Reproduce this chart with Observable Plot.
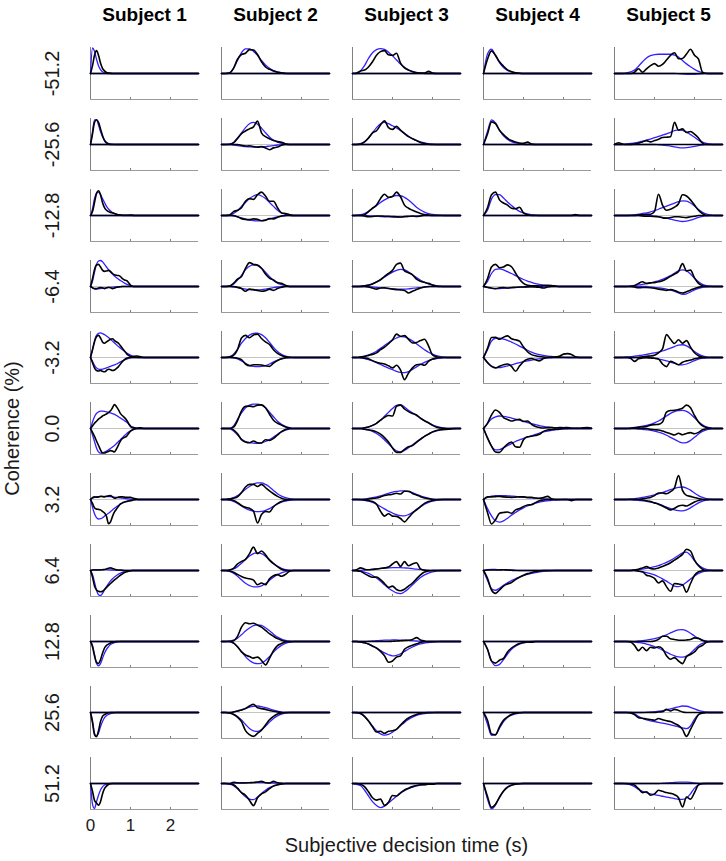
<!DOCTYPE html>
<html>
<head>
<meta charset="utf-8">
<script src="https://cdn.jsdelivr.net/npm/d3@7"></script>
<script src="https://cdn.jsdelivr.net/npm/@observablehq/plot@0.6"></script>
<style>
  html, body { margin: 0; padding: 0; background: #ffffff; }
  #chart { width: 726px; height: 861px; }
</style>
</head>
<body>
<div id="chart"></div>
<script>
// ---------- categories and labels ----------
const subjects = ["Subject 1", "Subject 2", "Subject 3", "Subject 4", "Subject 5"];
const coherences = ["-51.2", "-25.6", "-12.8", "-6.4", "-3.2", "0.0", "3.2", "6.4", "12.8", "25.6", "51.2"];
const timeTicks = [0, 1, 2];
const xTitle = "Subjective decision time (s)";
const yTitle = "Coherence (%)";
const tMax = 2.7;
// sampling step (s) of the stored density values, per subject
const steps = [0.05, 0.1, 0.1, 0.1, 0.1];

// ---------- densities (relative to panel maximum = 10), one entry per coherence ----------
// Up = choices drawn above zero, Lo = choices drawn below zero (stored as magnitudes)
// Black = data, Blue = model
const s1BlackUp = [
  [0,3,7,8.8,7,4,2,1,0.4,0.2,0.1],
  [0,4,8.5,9.5,8.5,6,3.5,1.5,0.6,0.2,0],
  [0,1.5,5,8.5,9.5,8,5,3,2,1.5,1.2,1,0.8,0.5,0.3,0.2,0.1,0.1,0.1,0.1,0.2,0.1,0],
  [0,3,6.5,8.3,8.5,7.5,6.3,5.8,6,6.2,5.8,5,4.5,4.3,4.2,3.8,3,2.5,2.3,1.5,0.5,0.1,0],
  [0,3,6,8,8.5,7.5,6,5.5,6,6.5,7,7.2,6.5,6,5.5,4.5,3.5,2.5,1.5,0.8,0.4,0.3,0.5,0.6,0.5,0.3,0.1,0],
  [0,1,2,2.8,3.6,4.2,4.8,5.2,5.6,6.1,6.8,8,9.2,8.4,7.2,5.7,4.9,4.2,3.3,2,0.8,0.3,0.2,0.1,0.2,0.3,0.1,0],
  [0,0.7,1,0.9,1,1.2,1.1,1,1.2,1.4,1.5,1,0.5,0.7,0.9,1,1,0.9,0.8,0.8,0.8,0.6,0.4,0.2,0],
  [0,0.2,0.2,0.2,0.2,0.2,0.3,0.4,0.6,0.9,1,0.8,0.5,0.3,0.2,0.2,0.1,0],
  [], [], []
];
const s1BlueUp = [
  [0,9.8,8.5,5.5,3,1.5,0.7,0.3,0.1,0],
  [0,5,9.5,9.5,7.5,5,3,1.7,0.9,0.4,0.2,0.1,0],
  [0,2.5,6.5,8.5,9,8,6.5,5,3.5,2.5,1.7,1.1,0.7,0.4,0.2,0.1,0],
  [0,2,5.5,8.5,9.8,10,9.5,8.5,7.5,6.5,5.5,4.8,4,3.4,2.8,2.3,1.8,1.3,0.9,0.6,0.3,0.1,0],
  [0,3,6.5,8.5,9.3,9.5,9.2,8.8,8.3,7.7,7,6.3,5.6,4.9,4.2,3.6,3,2.4,1.8,1.3,0.9,0.6,0.3,0.15,0],
  [0,2.5,4.5,5.8,6.4,6.7,6.7,6.6,6.4,6.2,6,5.7,5.4,5,4.5,4,3.5,3,2.5,1.8,1.1,0.6,0.3,0.1,0],
  [0,0.5,0.8,1,1.1,1.2,1.2,1.2,1.2,1.1,1.1,1,0.9,0.8,0.7,0.6,0.5,0.4,0.3,0.2,0.1,0],
  [0,0.2,0.3,0.3,0.35,0.35,0.35,0.3,0.3,0.25,0.2,0.2,0.15,0.1,0.1,0.05,0],
  [], [], []
];
const s1BlackLo = [
  [], [], [],
  [0,0.5,0.8,0.8,0.6,0.4,0.5,0.8,0.5,0.3,0.5,0.8,0.6,0.3,0.2,0.1,0],
  [0,2,4,5,5.2,5,5.3,5.5,5,4.5,4.7,5,4.8,4.2,3.5,2.5,1.5,0.8,0.3,0.1,0],
  [0,1.5,3,4.8,6.5,8.2,9.4,9.4,9.1,8.8,8.5,8.7,9,7.8,6.3,4.7,3.8,3.4,3,2,1,0.5,0.2,0],
  [0,1.5,3.2,3.7,3.8,4,4.6,5.2,6.5,9.3,8.6,6.5,4.8,3.7,2.6,1.7,1.2,1,0.8,0.6,0.5,0.3,0.1,0],
  [0,2.5,6,7.5,8,8.2,8,7.3,6.5,5.7,5,4.3,3.6,3,2.4,1.8,1.3,0.8,0.5,0.3,0.1,0],
  [0,2,5.5,8,8.5,7,4.5,2.5,1.5,1,0.6,0.3,0.1,0],
  [0,4,8.5,9.3,7,3.5,1.5,0.8,0.4,0.1,0],
  [0,3,6.5,7.5,8.3,7,4,2,1,0.4,0.1,0]
];
const s1BlueLo = [
  [], [], [],
  [0,0.5,0.9,1,0.9,0.8,0.7,0.6,0.5,0.4,0.3,0.25,0.2,0.15,0.1,0.05,0],
  [0,1.5,3,4,4.5,4.6,4.5,4.3,4,3.7,3.4,3.1,2.8,2.5,2.1,1.7,1.3,0.9,0.6,0.3,0.1,0],
  [0,2.5,5,7.5,9,9.5,9.4,9.1,8.7,8.2,7.7,7.1,6.5,5.8,5,4.3,3.5,2.7,2,1.4,0.9,0.5,0.3,0.1,0],
  [0,3,5.5,7,7.5,7.4,7,6.4,5.8,5.3,4.7,4,3.4,2.8,2.3,1.8,1.4,1,0.7,0.5,0.3,0.15,0],
  [0,1.5,4.5,7.5,9.3,9.6,8.8,7.5,6.2,5,4,3.2,2.5,1.9,1.4,1,0.7,0.5,0.3,0.2,0.1,0],
  [0,1.5,5,8.5,9.4,8.5,6.5,4.5,3,2,1.2,0.7,0.4,0.2,0.1,0],
  [0,3,8,9.2,8,5.5,3.5,2,1.2,0.7,0.4,0.2,0.1,0],
  [0,8,9.6,7,4.5,2.5,1.3,0.6,0.3,0.1,0]
];

const s2BlackUp = [
  [0,0,0.2,2,5.5,7.3,7.8,9.2,9,7.3,4.5,2.5,1.6,1,0.5,0.2,0],
  [0,0,0,0.6,2.3,4.2,5.2,6,6.8,9,4.5,3,2.2,1.5,1.1,0.9,0.2,0],
  [0,0,0.2,1.5,2,3,5.5,6.5,6.2,8,9,7.5,5.5,5.5,3,1,0.8,0.3,0],
  [0,0,0.2,1.2,2.8,3.8,7,9.2,8.5,8.3,7,4.8,3.2,2.5,1.5,1.2,0.5,0],
  [0,0,0.2,0.8,3,7.5,8.5,7.6,8.7,9,7.3,6,5,3,1.6,0.8,0.3,0],
  [0,0,0,0.5,3,6.8,8.5,8.6,8.4,9,9.1,8,5.5,3.2,2,1.3,0.6,0.2,0],
  [0,0,0.2,0.5,1,2.7,4.8,5.8,5.8,5,5.8,4.6,3.3,2.2,1.2,0.5,0.1,0],
  [0,0,0.2,0.8,2.5,3.5,4.3,6.5,9,6.5,7.5,6,4,2.6,1.5,0.5,0.1,0],
  [0,0,0,0.3,2,5.5,7.2,6.8,7,6.3,5.5,4.3,3,2,1.1,0.5,0.1,0],
  [0,0,0,0.2,0.6,1,1.5,2.5,3.2,1.8,1.5,1.2,0.8,0.5,0.2,0],
  [0,0,0,0.5,0.3,0.2,0.2,0.3,0.4,0.6,0.8,0.3,0.2,0.8,0.3,0.1,0]
];
const s2BlueUp = [
  [0,0,0.3,2,5,8,9.5,9.5,8.5,7,5,3.3,2,1.1,0.6,0.3,0.1,0],
  [0,0,0.2,0.8,2.5,4.5,6.5,8,8.5,7.8,6.3,4.5,2.9,1.7,0.9,0.4,0.2,0],
  [0,0,0,0.8,1.8,3.5,5,6.5,7.5,8,7.5,6.5,5,3.5,2,1,0.4,0.1,0],
  [0,0,0.2,0.9,2.5,4.3,6.5,7.8,8.3,8,7,5.5,3.8,2.3,1.3,0.7,0.3,0],
  [0,0,0.3,1.3,3.2,5.5,7.3,8.6,9.3,9.4,8.8,7.6,5.8,3.9,2.3,1.2,0.5,0.2,0],
  [0,0,0,1,3.5,6,8,9,9.4,9.4,9,8,6.3,4.5,2.8,1.6,0.8,0.3,0],
  [0,0,0.3,0.7,1.5,2.6,3.9,5,5.9,6.4,6.4,5.8,4.8,3.5,2.2,1.3,0.7,0.3,0.1,0],
  [0,0,0.2,0.6,1.5,2.8,4.2,5.6,6.5,6.8,6.5,5.5,4.1,2.7,1.6,0.8,0.3,0.1,0],
  [0,0,0.2,0.5,1.3,2.6,4,5.2,6.1,6.4,6.2,5.3,4.1,2.8,1.7,0.9,0.4,0.1,0],
  [0,0,0,0.2,0.5,1,1.6,2.1,2.4,2.5,2.3,1.9,1.4,0.9,0.5,0.2,0],
  [0,0,0,0.1,0.2,0.3,0.3,0.35,0.35,0.35,0.3,0.3,0.25,0.2,0.15,0.1,0]
];
const s2BlackLo = [
  [],
  [0,0,0,0,0,0.3,0.6,0.5,0.8,1,0.8,1.3,2,1.3,1,0.3,0],
  [0,0,0,0,0.5,1.2,1.5,1.6,1.3,1.5,2,1.8,1.2,1.3,0.7,0.2,0],
  [0,0,0,0,0.3,0.8,1.8,1,1.2,1.5,1.8,1.6,1,1.5,0.8,0.3,0],
  [0,0,0,0,0.3,0.8,2.5,3.2,2.8,2.8,2.9,3.2,3.4,2.2,1.2,0.5,0.1,0],
  [0,0,0,0.5,2,4.3,5.2,5.5,4.8,5.5,5.6,4.3,4.6,3.8,2.5,1.2,0.4,0],
  [0,0,0.1,0.4,1.2,2.3,3,3.4,4.5,9,5.8,4.6,4.8,2.8,1.6,0.8,0.3,0],
  [0,0,0.2,0.7,1.5,2.3,2.9,3.2,3.7,5.5,4.8,5.5,3.2,2,1.6,2.2,1.5,0.3,0],
  [0,0,0,0.5,2,4,5.2,5.8,6.4,6,7.3,9,6.5,3.5,1.6,0.8,0.2,0],
  [0,0,0.2,0.8,1.8,3.5,7,8.5,9.2,8,6.8,4.8,2.8,1.5,0.6,0.2,0],
  [0,0,0.1,0.5,1.8,3.5,4.5,6.5,8.5,5.5,4,3.2,2,1,0.5,0.2,0]
];
const s2BlueLo = [
  [],
  [0,0,0,0.2,0.4,0.6,0.8,0.9,1,1,0.9,0.8,0.6,0.4,0.2,0.1,0],
  [0,0,0,0.2,0.5,0.9,1.4,1.8,2,2.1,2,1.7,1.3,0.9,0.5,0.2,0.1,0],
  [0,0,0,0.2,0.4,0.7,1,1.2,1.3,1.3,1.2,1,0.7,0.4,0.2,0.1,0],
  [0,0,0,0.2,0.5,1.3,2.2,3,3.4,3.5,3.4,3.1,2.5,1.7,1,0.5,0.2,0],
  [0,0,0,1,2.5,4,5,5.4,5.6,5.7,5.5,5,4.3,3.3,2.2,1.3,0.6,0.2,0],
  [0,0,0.2,0.7,1.5,2.5,3.4,4.1,4.5,4.7,4.6,4.2,3.5,2.6,1.7,1,0.6,0.3,0.1,0],
  [0,0,0.3,1,2.2,3.6,4.9,5.8,6.3,6.3,5.9,5,3.8,2.6,1.6,0.9,0.4,0.1,0],
  [0,0,0,0.7,2,3.8,5.8,7.3,8.2,8.5,8.3,7.3,5.8,4.1,2.6,1.5,0.7,0.3,0],
  [0,0,0.2,0.6,1.5,2.9,4.6,6.2,7.1,7.3,6.6,5.3,3.7,2.3,1.3,0.6,0.2,0],
  [0,0,0.3,0.8,2,3.6,5.1,6,6.2,5.2,3.8,2.6,1.6,0.9,0.5,0.2,0]
];

const s3BlackUp = [
  [0,0,1,1.3,2.5,4.5,7,8.4,8.8,7.2,7,7.8,4,2.2,1.3,0.7,0.3,0.2,0.2,0.8,0.2,0],
  [0,0,0.2,1,2.5,4.5,5.3,7.5,9.1,6.5,5.8,7,5.5,4.2,3,2.2,1.5,0.8,0.4,0.1,0],
  [0,0,0,0.3,1.5,2.8,4,6.5,8.2,7,7.3,9,7.2,4,2.8,2,1.3,0.8,0.4,0.2,0],
  [0,0,0,0.2,0.5,1,1.7,2.6,3.9,5,6.2,8.5,9,6,5.3,4.5,2.8,2,1.6,1.2,0.6,0.1,0],
  [0,0,0.2,0.4,0.8,1.2,1.8,3,4,5.3,6.8,9,8.2,8.4,7,5.6,5.8,6.5,7,4.5,1,0.3,0],
  [0,0,0,0.3,0.6,1.2,2,3.2,4.3,5,4.8,8.5,9,7.5,6.5,5.8,5.2,4,3,2.2,1.2,0.5,0.2,0],
  [0,0,0,0,0.2,0.4,0.6,1,1.5,1.8,2,2.4,2.1,3.2,3.2,2.3,1.7,1.1,0.6,0.3,0],
  [0,0.3,1,0.5,0.3,0.4,0.6,0.8,1,1.3,2.5,3.4,1.6,3.4,1.8,2.5,3,0.6,0.1,0],
  [0,0,0,0,0,0,0,0,0,0,0.1,0.2,0.3,0.4,0.5,0.8,1.5,0.6,0.2,0],
  [], []
];
const s3BlueUp = [
  [0,0.3,1,3,5.8,8,9.2,9.6,9.3,8.2,6.8,5.2,3.6,2.4,1.4,0.8,0.4,0.2,0],
  [0,0,0.3,1,2.5,4.5,6.5,8,8.5,8,7.2,6.4,5.4,4.3,3.2,2.3,1.5,1,0.6,0.3,0.15,0],
  [0,0.1,0.3,0.7,1.6,2.7,3.8,5,6,6.8,7.4,7.7,7.6,7,6,4.6,3.2,2.1,1.3,0.7,0.4,0.2,0.1,0],
  [0,0,0.1,0.3,0.6,1.1,1.8,2.6,3.6,4.6,5.5,6.2,6.6,6.4,5.6,4.5,3.4,2.4,1.6,1,0.6,0.3,0.1,0],
  [0,0,0.2,0.5,1,1.6,2.4,3.5,4.6,5.7,6.7,7.5,8,7.9,7.3,6.4,5.3,4.1,3,2,1.3,0.7,0.3,0.1,0],
  [0,0,0,0.2,0.6,1.2,2,3.2,4.7,6.2,7.7,8.9,9.2,8.3,7,6,5,3.9,3,2.1,1.4,0.8,0.4,0.2,0],
  [0,0,0,0.2,0.4,0.7,1,1.4,1.9,2.4,2.8,3.1,3.3,3.3,3,2.6,2,1.4,0.9,0.5,0.2,0],
  [0,0,0,0.2,0.3,0.5,0.6,0.8,0.9,1,1.1,1.1,1.1,1,0.9,0.7,0.5,0.4,0.2,0.1,0],
  [0,0,0,0,0.1,0.2,0.3,0.4,0.5,0.5,0.6,0.6,0.5,0.5,0.4,0.3,0.2,0.1,0],
  [], []
];
const s3BlackLo = [
  [], [],
  [0,0,0,0.2,0.5,0.4,0.2,0.2,0.3,0.3,0.4,0.5,0.6,0.4,0.3,0.2,0.4,0.2,0],
  [0,0,0,0,0.2,0.6,1,0.6,0.5,0.7,1,1.2,1.3,1.5,2.5,1.8,1.2,0.6,0.2,0],
  [0,0,0,0.2,0.5,1.2,1.8,2.2,2.5,3.2,4,3,4.8,8.5,6,4,2.8,2.6,3,1.5,0.6,0.2,0],
  [0,0,0,0.3,0.5,0.8,1.3,2.2,3.5,5.2,7.5,9.2,9.2,8,7,6.6,5.3,4.2,3,2.2,1.3,0.8,0.5,0.4,0.3,0.1,0],
  [0,0,0,0.2,0.4,0.8,1.8,4.5,6.4,5.5,6.4,6.5,7.3,8.6,7,5.3,4,2.7,1.5,0.8,0.4,0.1,0],
  [0,0.1,0.3,1.2,2,2.6,2.5,3.5,5,6.5,6,7.3,7.8,7.2,6,4.8,3.2,1.7,0.6,0.2,0],
  [0,0,0.2,0.5,1,1.8,2.5,3.8,5.5,8,7.5,6,5.5,3,2,1.4,0.9,0.4,0.1,0],
  [0,0,0.3,1.5,3.3,5.5,7.5,7.2,8,7.2,7,6.5,4.8,3.3,2.1,1.3,0.8,0.3,0.1,0],
  [0,0,0.3,1.2,3.2,5.5,6.4,6,8.4,7.2,4.6,4.8,3.6,2.5,1.8,1.2,0.8,0.5,0.5,0.3,0.3,0]
];
const s3BlueLo = [
  [], [],
  [0,0,0,0,0.1,0.2,0.3,0.4,0.5,0.5,0.6,0.6,0.6,0.5,0.4,0.3,0.2,0.1,0],
  [0,0,0,0,0.1,0.2,0.3,0.5,0.6,0.8,0.9,1,1,1,0.9,0.7,0.5,0.4,0.2,0.1,0],
  [0,0,0.2,0.4,0.8,1.3,2,2.7,3.4,4.1,4.7,5.3,5.7,5.8,5.4,4.6,3.6,2.7,1.9,1.2,0.7,0.4,0.2,0],
  [0,0,0,0.3,0.6,1.1,1.9,3,4.4,5.9,7.4,8.6,9,8.4,7.4,6.3,5.1,4,3,2.1,1.4,0.9,0.5,0.3,0.1,0],
  [0,0,0.1,0.3,0.6,1.1,1.8,2.7,3.6,4.5,5.2,5.8,6.2,6.3,5.8,4.9,3.8,2.8,1.8,1.1,0.6,0.3,0.1,0],
  [0,0,0.3,0.6,1.1,1.9,2.9,4.1,5.5,6.8,7.8,8.6,8.9,8.2,7,5.5,4,2.7,1.7,1,0.5,0.2,0],
  [0,0,0.2,0.5,1,1.7,2.6,3.5,4.4,5.1,5.5,5.3,4.7,3.8,2.9,2.1,1.4,0.9,0.6,0.4,0.2,0.1,0],
  [0,0.2,0.5,1.5,3.2,5.2,7,8.2,8.7,8.4,7.6,6.4,5.1,3.8,2.7,1.8,1.1,0.7,0.4,0.2,0.1,0],
  [0,0.3,0.8,2.5,4.8,7,8.5,9.3,8.7,7.5,6.2,4.9,3.7,2.8,2,1.4,0.9,0.6,0.4,0.3,0.2,0]
];

const s4BlackUp = [
  [0,5.5,8.7,7,4.5,2.8,1.4,0.7,0.3,0.1,0],
  [0,4,8.7,8,5.5,3.8,2.4,1.5,1,0.6,0.5,0.9,0.2,0],
  [0,3,8,9,6,4.8,4,2.8,2.6,3.2,1,0.3,0,0,0,0,0,0,0,0,0,0,0,0.4,0],
  [0,3,7.5,8.5,7.2,7.5,8.3,7.6,5.2,2.8,1.2,0.5,0.3,0.3,0.2,0.4,0.5,0.4,0.2,0],
  [0,3.5,7.7,7.8,7,7.8,8.3,7.2,6.8,6.3,4,2.2,1.1,0.7,0.4,0.2,0.1,0.1,0.2,0.5,1.3,1.5,1.2,0.3,0],
  [0,2,5.2,7.1,6.2,4.2,3.5,2.9,3.3,3.5,2.7,2.9,1.6,0.8,0.4,0.2,0.3,0.4,0.2,0.4,0.3,0.4,0.1,0.1,0.1,0.3,0.4,0.1],
  [0,1,1,1.1,1.2,1,0.9,0.8,0.9,1,1,0.8,0.8,0.6,0.5,0.8,1.2,0.3,0],
  [0,0.2,0.2,0.2,0.2,0.3,0.2,0.1,0],
  [], [], []
];
const s4BlueUp = [
  [0,7.5,9.4,6.8,4.2,2.3,1.2,0.6,0.3,0.1,0],
  [0,5,9.5,8.3,5.5,3.3,2,1.1,0.6,0.3,0.1,0],
  [0,2,6.3,8,8,6.7,5.2,3.8,2.6,1.6,1,0.6,0.3,0.15,0],
  [0,2,5,6.6,6.8,6.4,5.7,5,4.2,3.4,2.7,2.1,1.6,1.1,0.8,0.5,0.3,0.2,0.1,0],
  [0,3,6.3,7.4,7.4,7.1,6.6,5.9,5.2,4.4,3.6,2.8,2.1,1.5,1.1,0.8,0.5,0.4,0.3,0.2,0.1,0],
  [0,2,3.7,4.5,4.8,4.7,4.4,4,3.6,3.2,2.8,2.3,1.9,1.5,1.1,0.8,0.6,0.4,0.3,0.2,0.1,0],
  [0,0.8,1.3,1.5,1.5,1.5,1.4,1.3,1.2,1,0.9,0.7,0.6,0.5,0.4,0.3,0.2,0.1,0],
  [0,0.3,0.4,0.4,0.3,0.3,0.2,0.2,0.1,0],
  [], [], []
];
const s4BlackLo = [
  [], [], [],
  [0,0.3,0.6,0.8,0.5,0.4,0.6,0.4,0.3,0.2,0.2,0.1,0.1,0.2,0.3,0.6,0.2,0],
  [0,2,3.4,4,3.4,2.8,2.5,3.4,5.3,3.3,1.6,0.7,0.4,0.9,1.3,0.4,0],
  [0,3.7,6.8,9,9.2,7.5,6,5.2,7,7.2,4.3,3.2,3,2.7,2.2,1.1,0.6,0.4,0.3,0.2,0],
  [0,5,9.4,7.8,5.3,5,4.8,5.3,4,3.5,2.7,2.1,2,1.2,0.5,0.2,0,0,0,0,0,0,0.5,0],
  [0,3,7.5,8.8,7.5,6,5.2,4.6,3.5,2.6,1.8,1.2,0.8,0.4,0.2,0],
  [0,3,7.5,8.3,7.2,6.5,4,2.5,1.5,0.8,0.4,0.2,0.3,0],
  [0,3,8.3,8.6,5.5,3,1.7,0.8,0.3,0.1,0],
  [0,5,9.2,8,5.3,3,1.5,0.7,0.3,0.1,0]
];
const s4BlueLo = [
  [], [], [],
  [0,0.4,0.7,0.8,0.8,0.7,0.6,0.5,0.4,0.3,0.2,0.2,0.1,0],
  [0,1.8,3.3,3.9,3.9,3.6,3.2,2.8,2.4,2,1.6,1.3,1,0.7,0.5,0.3,0.2,0.1,0],
  [0,3.5,6.8,8.2,8.1,7.4,6.6,5.8,5,4.4,3.8,3.3,2.8,2.3,1.8,1.3,1,0.7,0.5,0.3,0.2,0.1,0],
  [0,3.5,6.3,8.2,8.7,8.2,7.2,6,5,4,3.2,2.5,1.9,1.4,1,0.7,0.5,0.3,0.2,0.1,0],
  [0,3.8,7,7.6,6.8,5.7,4.7,3.9,3.2,2.5,2,1.5,1.1,0.8,0.5,0.3,0.2,0.1,0],
  [0,3,7.5,9.3,8.8,7,4.8,3,1.8,1,0.5,0.2,0],
  [0,4.5,8.8,8.5,6,3.5,1.9,1,0.5,0.2,0],
  [0,6,9.7,8.3,5.2,2.8,1.3,0.6,0.2,0.1,0]
];

const s5BlackUp = [
  [0,0,0,0,0,0.5,1.8,0.5,1.8,3,3.8,2.8,3.5,5.2,7,8,5.7,5.8,7.5,9.3,7,5.5,0.5,0],
  [0,0.7,0.2,0,0,0.2,0.5,1,1.5,1,1.5,2,2.7,2.8,3,8.5,5.5,6,4.6,5,4,2.5,0.5,0],
  [0,0,0,0,0,0,0.2,0.3,0.5,0.5,1.5,8.2,4,2,2.4,3.2,4.5,8,7.5,6,4,2,0.7,0],
  [0,0,0,0,0,0.3,1.2,1.8,1.2,1.4,1.5,1.8,2.2,3,3.9,4.8,5.8,8.8,6,6.3,3.3,1.2,0.3,0],
  [0,0,0,0,0,0,0,0.3,0.5,0.6,0.9,1.8,3.3,8.8,7,5.4,6.8,5.5,6.5,4,1.8,0.7,0.2,0],
  [0,0,0,0,0,0.3,0.5,0.6,0.8,1.3,1.5,1.6,2.5,6.3,6.9,7,7.3,7.8,9,8,5,2.5,1,0.4,0.1,0],
  [0,0,0,0,0,0,0,0.3,0.5,0.8,1.5,2.5,2.5,2.2,3,4.5,9.2,3.5,1.6,1.2,0.8,0.4,0.1,0],
  [0,0,0,0,0,0.2,0.5,1,1.5,0.8,0.6,1,1.5,2.2,3,4,5,6.2,8.2,7.5,4,1.8,0.5,0],
  [0,0,0,0,0,0,0,0,0,0,0.2,0.8,2,2,1.1,0.8,0.5,0.5,0.6,0.8,1.4,1.2,0.4,0],
  [0,0,0,0,0,0,0,0,0,0,0,0.2,0.3,1.2,0.6,1.2,0.8,0.2,0],
  []
];
const s5BlueUp = [
  [0,0,0,0.2,0.6,1.3,2.8,4.5,6,6.9,7.3,7.4,7.4,7.4,7.4,7.1,6.3,5,3.7,2.6,1.6,0.8,0.3,0.1,0],
  [0,0,0,0.2,0.4,0.6,0.9,1.3,1.7,2.1,2.6,3.1,3.6,4.1,4.7,5.3,5.6,5.4,4.8,3.8,2.8,1.7,0.9,0.4,0.1,0],
  [0,0,0,0,0.1,0.3,0.5,0.8,1,1.4,1.9,2.4,3,3.6,4.2,4.8,5.3,5.6,5.5,4.8,3.7,2.3,1.2,0.5,0.2,0],
  [0,0,0,0,0.2,0.4,0.6,0.8,1.1,1.4,1.8,2.2,2.7,3.4,4.2,5.1,6,6.4,6,4.8,3.2,1.8,0.8,0.3,0.1,0],
  [0,0,0,0.2,0.3,0.5,0.7,0.9,1.2,1.5,1.8,2.1,2.5,3,3.6,4.2,4.8,4.9,4.5,3.5,2.3,1.3,0.6,0.2,0],
  [0,0,0,0,0.2,0.4,0.6,0.9,1.2,1.6,2.2,2.9,3.8,4.8,5.8,6.5,6.9,7,6.6,5.6,4.1,2.6,1.4,0.6,0.2,0],
  [0,0,0,0,0.2,0.3,0.5,0.8,1.1,1.4,1.8,2.2,2.7,3.2,3.8,4.3,4.7,4.8,4.4,3.6,2.5,1.5,0.8,0.3,0.1,0],
  [0,0,0,0,0,0.2,0.3,0.5,0.8,1.1,1.5,1.9,2.5,3.1,3.9,4.8,5.8,6.8,7.1,5.8,3.8,2.1,1,0.4,0.1,0],
  [0,0,0,0,0,0,0.2,0.3,0.5,0.8,1.1,1.5,2,2.6,3.3,4,4.5,4.6,4.1,3.2,2.1,1.2,0.5,0.2,0],
  [0,0,0,0,0,0,0,0,0.1,0.2,0.3,0.5,0.7,1,1.4,1.8,2.2,2.5,2.4,2,1.4,0.8,0.4,0.1,0],
  [0,0,0,0,0,0,0,0,0,0,0,0,0.1,0.2,0.3,0.4,0.5,0.5,0.5,0.4,0.2,0.1,0]
];
const s5BlackLo = [
  [], [],
  [0,0,0,0,0,0,0,0.2,0.3,0.3,0.4,0.5,0.9,1,0.8,0.5,0.5,0.7,0.8,0.5,0.3,0],
  [0,0,0,0,0,0.2,0.5,0.4,0.4,0.5,0.7,1,1.2,1.5,1.2,1.5,2.2,2.5,2,1.4,0.8,0.3,0],
  [0,0,0,0,0.3,1.5,0.5,0.2,0.1,0.2,0.3,0.6,2.5,3.5,1.5,2,2.8,1.8,1.3,1,0.5,0.2,0],
  [0,0,0,0,0,0,0,0,0,0.3,0.5,0.6,1,1.5,2,2.5,1.8,2.4,1.9,1.6,2,1.5,0.5,0.1,0],
  [0,0,0,0,0,0,0,0.2,0.5,0.8,1.3,1.8,2.5,3.3,4,3.4,2.5,2.2,2.5,1.8,1,0.4,0.1,0],
  [0,0,0,0,0,0,0.2,0.5,1.8,2.2,3,4.8,4,6.2,8,5,5.2,5.5,8.3,5,1.8,0.5,0.1,0],
  [0,0,0,0,0.2,1.5,3.5,2.2,3.5,2.2,2.5,2,2.8,5.5,6.8,6.2,7.5,8.5,5.8,5,4,2.3,1.5,0.3,0],
  [0,0,0,0,0.2,0.8,2,2.2,2.5,2.7,3,2.3,2.8,3.2,3.5,4.2,5,6.5,9.2,6.5,3.5,0.8,0.2,0],
  [0,0,0,0,0.2,0.6,2,3.5,3.2,4.5,4,2.6,3,3.5,3.8,4.3,5.5,9,5.2,6,3.5,0.5,0]
];
const s5BlueLo = [
  [0,0,0,0,0,0,0,0,0,0,0,0,0,0,0,0,0.1,0.2,0.3,0.35,0.3,0.2,0.1,0],
  [0,0,0,0,0,0,0,0,0,0,0,0.1,0.2,0.4,0.6,0.9,1.2,1.3,1.2,1,0.7,0.4,0.2,0],
  [0,0,0,0,0,0,0,0,0,0,0.2,0.4,0.7,1,1.4,1.8,2.1,2.3,2.2,1.8,1.3,0.7,0.3,0.1,0],
  [0,0,0,0,0,0,0,0,0,0.2,0.3,0.5,0.7,1,1.4,1.9,2.5,3,2.8,2.1,1.3,0.7,0.3,0.1,0],
  [0,0,0,0,0,0,0,0,0,0,0.3,0.6,0.9,1.3,1.8,2.3,2.7,2.8,2.5,1.9,1.2,0.6,0.3,0.1,0],
  [0,0,0,0,0,0,0.2,0.3,0.5,0.7,1,1.4,1.9,2.6,3.4,4.2,5,5.5,5.4,4.6,3.4,2.1,1.1,0.5,0.2,0],
  [0,0,0,0,0,0.2,0.3,0.5,0.7,1,1.3,1.7,2.3,2.9,3.5,4,4.3,4.4,4,3.2,2.2,1.3,0.6,0.2,0],
  [0,0,0,0,0,0,0.3,0.5,0.8,1.2,1.7,2.4,3.2,4.1,5.1,6,6.2,5.6,4.5,3.3,2.1,1.1,0.5,0.2,0],
  [0,0,0,0,0,0.2,0.4,0.6,1,1.4,2,2.6,3.3,4.1,4.9,5.5,5.9,6,5.6,4.5,3,1.6,0.7,0.2,0],
  [0,0,0,0,0,0.5,1.5,2.3,2.8,3.2,3.5,3.8,4.1,4.4,4.8,5.1,5.5,5.9,6.2,5.2,2.5,0.8,0.2,0],
  [0,0,0,0.2,0.5,1.2,2.3,3,3.5,4,4.3,4.6,4.9,5.2,5.5,5.8,6.1,6.1,5.6,4,1.8,0.5,0.1,0]
];

// ---------- build tidy tables for Plot ----------
const curveSets = [
  [s1BlackUp, s1BlackLo, s1BlueUp, s1BlueLo],
  [s2BlackUp, s2BlackLo, s2BlueUp, s2BlueLo],
  [s3BlackUp, s3BlackLo, s3BlueUp, s3BlueLo],
  [s4BlackUp, s4BlackLo, s4BlueUp, s4BlueLo],
  [s5BlackUp, s5BlackLo, s5BlueUp, s5BlueLo]
];
const kinds = [["black", 1], ["black", -1], ["blue", 1], ["blue", -1]];
const points = [];
subjects.forEach((subject, si) => {
  const step = steps[si];
  const n = Math.round(tMax / step);
  coherences.forEach((coh, ri) => {
    kinds.forEach(([kind, sign], k) => {
      const vals = curveSets[si][k][ri] || [];
      for (let i = 0; i <= n; i++) {
        points.push({subject, coh, kind, id: si + "-" + ri + "-" + k, t: +(i * step).toFixed(3), v: sign * (vals[i] ?? 0)});
      }
    });
  });
});
const cells = subjects.flatMap(subject => coherences.map(coh => ({subject, coh})));
const tickCells = cells.flatMap(c => [1, 2].map(t => ({...c, t})));

const font = "'Liberation Sans', Arial, Helvetica, sans-serif";
const axisGray = "#808080";

const chart = Plot.plot({
  width: 726,
  height: 861,
  marginLeft: 88,
  marginRight: 1,
  marginTop: 43,
  marginBottom: 48,
  style: {fontFamily: font, background: "#ffffff", color: "#1a1a1a"},
  x: {domain: [0, tMax], axis: null},
  y: {domain: [-10, 10], axis: null},
  fx: {domain: subjects, paddingInner: 0.1742, paddingOuter: 0, axis: null, label: null},
  fy: {domain: coherences, paddingInner: 0.2608, paddingOuter: 0, axis: null, label: null},
  marks: [
    // zero line
    Plot.ruleY(cells, {y: 0, x1: 0, x2: tMax, fx: "subject", fy: "coh", stroke: "#c4c4c4", strokeWidth: 1}),
    // axes frame
    Plot.ruleX(cells, {x: 0, y1: -10, y2: 10, fx: "subject", fy: "coh", stroke: axisGray, strokeWidth: 1}),
    Plot.ruleY(cells, {y: -10, x1: 0, x2: tMax, fx: "subject", fy: "coh", stroke: "#9a9a9a", strokeWidth: 1}),
    Plot.ruleX(tickCells, {x: "t", y1: -10, y2: -9.2, fx: "subject", fy: "coh", stroke: axisGray, strokeWidth: 1}),
    // model (blue) then data (black)
    Plot.line(points.filter(d => d.kind === "blue"), {x: "t", y: "v", z: "id", fx: "subject", fy: "coh", stroke: "#3322ff", strokeWidth: 1.3, curve: "monotone-x"}),
    Plot.line(points.filter(d => d.kind === "black"), {x: "t", y: "v", z: "id", fx: "subject", fy: "coh", stroke: "#000000", strokeWidth: 1.6, curve: "monotone-x"}),
    // subject titles
    Plot.text(subjects, {fx: d => d, fy: () => coherences[0], text: d => d, frameAnchor: "top", textAnchor: "middle", lineAnchor: "middle", dy: -33, fontSize: 19, fontWeight: "bold", fill: "#000000"}),
    // coherence labels
    Plot.text(coherences, {fx: () => subjects[0], fy: d => d, text: d => d, frameAnchor: "left", textAnchor: "middle", lineAnchor: "middle", dx: -38, rotate: -90, fontSize: 20, fill: "#1a1a1a"}),
    // time tick labels (first column, last row)
    Plot.text(timeTicks, {x: d => d, fx: () => subjects[0], fy: () => coherences[coherences.length - 1], text: d => String(d), frameAnchor: "bottom", textAnchor: "middle", lineAnchor: "middle", dy: 16, fontSize: 17, fill: "#1a1a1a"}),
    // axis titles
    Plot.text([xTitle], {fx: () => subjects[2], fy: () => coherences[coherences.length - 1], text: d => d, frameAnchor: "bottom", textAnchor: "middle", lineAnchor: "middle", dy: 36, fontSize: 20, fill: "#1a1a1a"}),
    Plot.text([yTitle], {fx: () => subjects[0], fy: () => coherences[5], text: d => d, frameAnchor: "left", textAnchor: "middle", lineAnchor: "middle", dx: -78, rotate: -90, fontSize: 20, fill: "#1a1a1a"})
  ]
});
document.getElementById("chart").appendChild(chart);
</script>
</body>
</html>
